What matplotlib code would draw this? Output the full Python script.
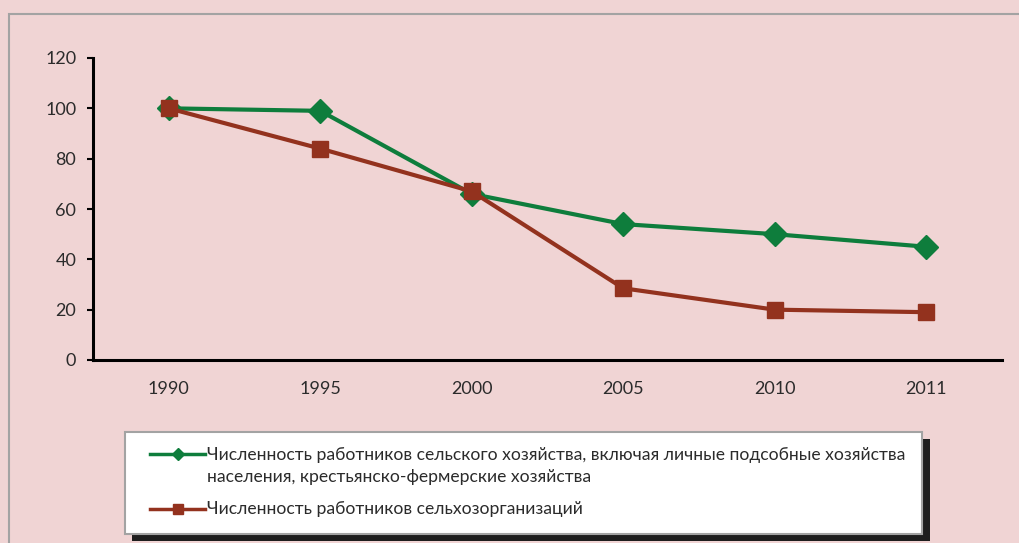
import matplotlib
matplotlib.use("Agg")
from matplotlib import pyplot as plt
from matplotlib.patches import Rectangle
from matplotlib.lines import Line2D
import numpy as np

years = ["1990", "1995", "2000", "2005", "2010", "2011"]
all_workers = [100, 99, 66, 54, 50, 45]
org_workers = [100, 84, 67, 28.5, 20, 19]

label_all = ("Численность работников сельского хозяйства, включая личные подсобные хозяйства\n"
             "населения, крестьянско-фермерские хозяйства")
label_org = "Численность работников сельхозорганизаций"

bg = "#f0d4d4"
green = "#0e7d3c"
red = "#93321e"
txt = "#2b2b2b"

plt.rcParams["font.family"] = ["Lato", "DejaVu Sans"]

W, H = 1019, 543
fig = plt.figure(figsize=(W / 100, H / 100), dpi=100)
fig.patch.set_facecolor(bg)

def px(x0, y0, x1, y1):
    # pixel box (top-left origin) -> figure fraction rect
    return (x0 / W, 1 - y1 / H, (x1 - x0) / W, (y1 - y0) / H)

# outer chart frame
x, y, w, h = px(9, 14, 1030, 560)
fig.patches.append(Rectangle((x, y), w, h, transform=fig.transFigure,
                             facecolor="none", edgecolor="#a3a3a3", lw=1.5))

ax = fig.add_axes([93 / W, 1 - 360 / H, 909 / W, 302 / H])
ax.set_facecolor(bg)
xs = np.arange(len(years))
ax.plot(xs, all_workers, color=green, lw=3, marker="D", ms=12.5, zorder=3)
ax.plot(xs, org_workers, color=red, lw=3, marker="s", ms=11.5, zorder=4)

ax.set_xlim(-0.5, len(years) - 0.5)
ax.set_ylim(0, 120)
ax.set_yticks(range(0, 121, 20))
ax.set_xticks(xs)
ax.set_xticklabels(years)
for s in ["top", "right"]:
    ax.spines[s].set_visible(False)
for s in ["left", "bottom"]:
    ax.spines[s].set_linewidth(2.2)
    ax.spines[s].set_color("black")
ax.tick_params(axis="y", length=4, width=1.5, pad=8, labelsize=13, labelcolor=txt)
ax.tick_params(axis="x", length=0, pad=15, labelsize=13, labelcolor=txt)

# legend box with shadow
x, y, w, h = px(132, 439, 930, 541)
fig.patches.append(Rectangle((x, y), w, h, transform=fig.transFigure,
                             facecolor="#1e1e1e", edgecolor="none", zorder=5))
x, y, w, h = px(125, 432, 922, 534)
fig.patches.append(Rectangle((x, y), w, h, transform=fig.transFigure,
                             facecolor="white", edgecolor="#a3a3a3", lw=1.5, zorder=6))

def legend_item(yp, color, marker, ms):
    fig.lines.append(Line2D([150 / W, 205 / W], [1 - yp / H] * 2, transform=fig.transFigure,
                            color=color, lw=2.5, zorder=7))
    fig.lines.append(Line2D([177.5 / W], [1 - yp / H], transform=fig.transFigure,
                            color=color, marker=marker, ms=ms, zorder=8))

legend_item(454, green, "D", 6)
legend_item(509, red, "s", 7)
fig.text(207 / W, 1 - 466 / H, label_all, fontsize=12.6, color=txt, va="center",
         linespacing=1.45, zorder=9)
fig.text(207 / W, 1 - 509 / H, label_org, fontsize=12.6, color=txt, va="center", zorder=9)

fig.savefig("out.png", dpi=100, facecolor=bg)
